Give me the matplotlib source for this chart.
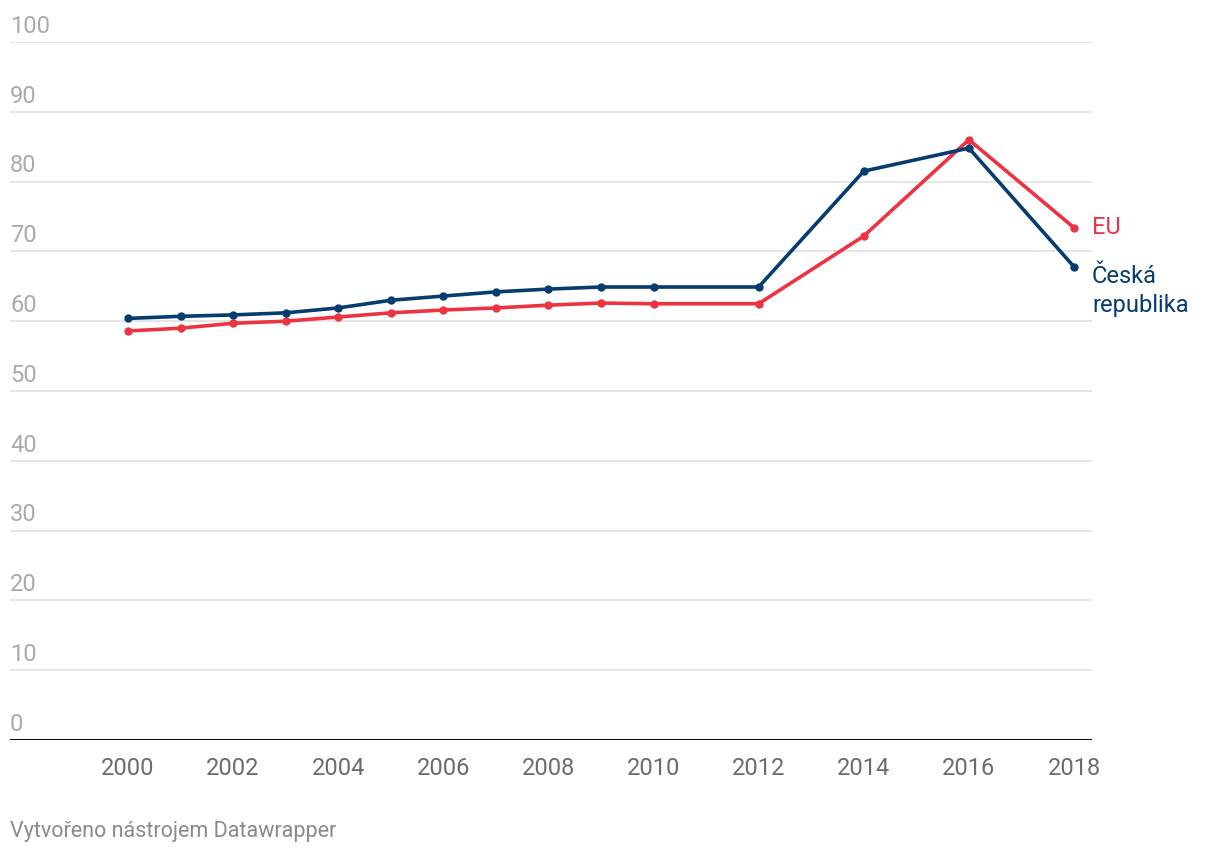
import matplotlib
matplotlib.use("Agg")
import matplotlib.pyplot as plt

years = [2000, 2001, 2002, 2003, 2004, 2005, 2006, 2007, 2008, 2009, 2010, 2012, 2014, 2016, 2018]
cz = [60.4, 60.7, 60.9, 61.2, 61.9, 63.0, 63.6, 64.2, 64.6, 64.9, 64.9, 64.9, 81.5, 84.8, 67.8]
eu = [58.6, 59.0, 59.7, 60.0, 60.6, 61.2, 61.6, 61.9, 62.3, 62.6, 62.5, 62.5, 72.2, 86.0, 73.4]
xticks = [2000, 2002, 2004, 2006, 2008, 2010, 2012, 2014, 2016, 2018]
yticks = [0, 10, 20, 30, 40, 50, 60, 70, 80, 90, 100]

BLUE = "#063c6e"
RED = "#ec3342"

plt.rcParams['font.family'] = ['Roboto', 'DejaVu Sans']

fig = plt.figure(figsize=(12.2, 8.56), dpi=100)
ax = fig.add_axes([10/1220, 1-740/856, (1092-10)/1220, (740-42)/856])
ax.set_xlim(2000 - 118/52.56, 2018 + 18/52.56)
ax.set_ylim(0, 100)

for s in ax.spines.values():
    s.set_visible(False)
ax.set_yticks([])
ax.set_xticks(xticks)
ax.set_xticklabels([str(x) for x in xticks], fontsize=17, color="#6b6b6b")
ax.tick_params(axis='x', length=0, pad=12)

for v in yticks:
    if v > 0:
        ax.axhline(v, color="#e3e3e3", lw=1.3, zorder=1)
    ax.text(0, v + 0.6, str(v), transform=ax.get_yaxis_transform(),
            ha='left', va='bottom', fontsize=17, color="#aaaaaa")
ax.axhline(0, color="#111111", lw=2.2, zorder=2)

ax.plot(years, eu, color=RED, lw=2.6, marker='o', ms=5, zorder=3, solid_capstyle='round')
ax.plot(years, cz, color=BLUE, lw=2.6, marker='o', ms=5, zorder=4, solid_capstyle='round')

fig.text(1092/1220, 1-227/856, "EU", color=RED, fontsize=17, ha='left', va='center')
fig.text(1092/1220, 1-291/856, "Česká\nrepublika", color=BLUE, fontsize=17, ha='left', va='center', linespacing=1.3)

fig.text(10/1220, 1-831/856, "Vytvořeno nástrojem Datawrapper", color="#8a8a8a", fontsize=15.5, ha='left', va='center')

fig.savefig("out.png", dpi=100)
